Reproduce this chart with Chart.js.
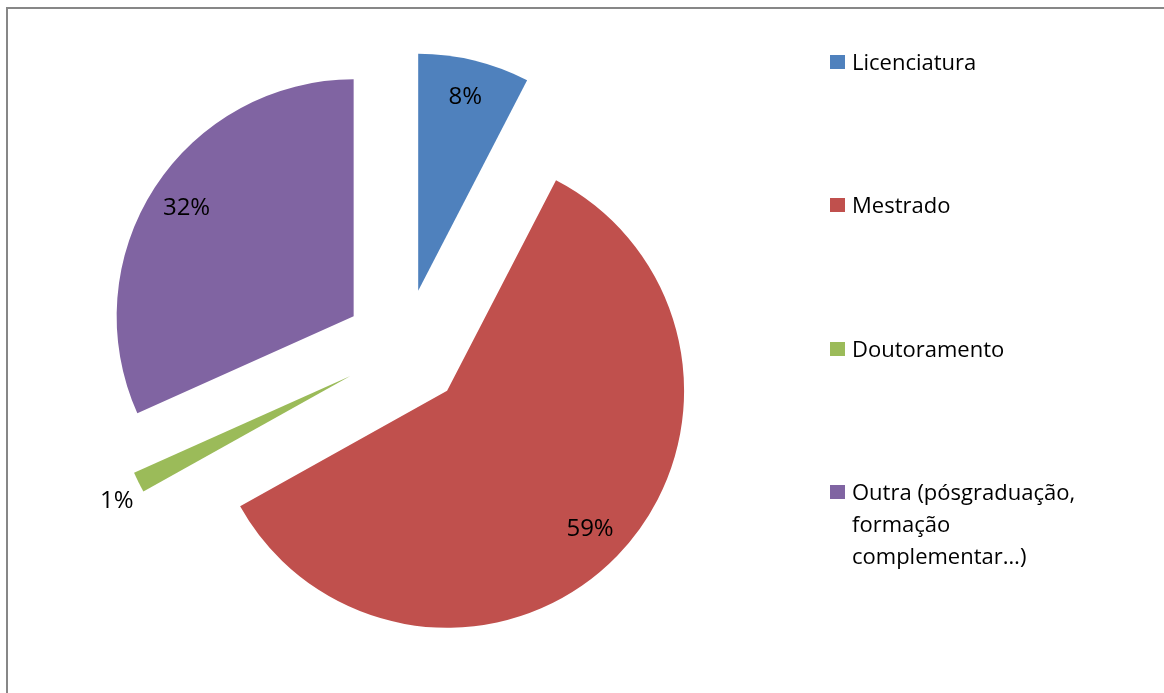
<!DOCTYPE html>
<html>
<head>
<meta charset="utf-8">
<script src="https://cdn.jsdelivr.net/npm/chart.js@4.4.0/dist/chart.umd.min.js"></script>
<style>
    body { margin: 0; background: #fff; overflow: hidden; }
    #wrap { position: relative; width: 1164px; height: 693px; }
    #frame { position: absolute; left: 6px; top: 7px; width: 1220px; height: 740px; border: 2px solid #878787; }
    #myChart { position: absolute; left: 0; top: 0; }
    .item { position: absolute; left: 830px; }
    .box { position: absolute; left: 0; top: 10px; width: 15px; height: 14px; }
    .txt { position: absolute; left: 22px; width: 245px; font: 22px/32px "Open Sans", sans-serif; color: #000; }
</style>
</head>
<body>
<div id="wrap">
    <div id="frame"></div>
    <canvas id="myChart" width="1164" height="693"></canvas>
    <div id="legend"></div>
</div>
<script>
// data
const labels = ['Licenciatura', 'Mestrado', 'Doutoramento', 'Outra (pósgraduação, formação complementar…)'];
const values = [7.6, 59.3, 1.4, 31.7];
const colors = ['#4F81BD', '#C0504D', '#9BBB59', '#8064A2'];

const EXPLODE = 60;

// draw each slice pushed out along its middle angle
const explodePlugin = {
    id: 'explode',
    beforeDatasetDraw(chart, args) {
        const ctx = chart.ctx;
        args.meta.data.forEach(arc => {
            const mid = (arc.startAngle + arc.endAngle) / 2;
            ctx.save();
            ctx.translate(Math.cos(mid) * EXPLODE, Math.sin(mid) * EXPLODE);
            arc.draw(ctx);
            ctx.restore();
        });
        return false;
    }
};

// percentage labels, small slices go outside
const percentPlugin = {
    id: 'percentLabels',
    afterDatasetsDraw(chart) {
        const ctx = chart.ctx;
        const total = values.reduce((a, b) => a + b, 0);
        ctx.save();
        ctx.font = '24px "Open Sans"';
        ctx.fillStyle = '#000';
        chart.getDatasetMeta(0).data.forEach((arc, i) => {
            const mid = (arc.startAngle + arc.endAngle) / 2;
            const cx = arc.x + Math.cos(mid) * EXPLODE;
            const cy = arc.y + Math.sin(mid) * EXPLODE;
            const text = Math.round(values[i] / total * 100) + '%';
            if (values[i] / total < 0.03) {
                const ex = cx + Math.cos(mid) * arc.outerRadius;
                const ey = cy + Math.sin(mid) * arc.outerRadius;
                ctx.textAlign = 'right';
                ctx.textBaseline = 'middle';
                ctx.fillText(text, ex - 5, ey + 19);
            } else {
                const r = arc.outerRadius * 0.84;
                ctx.textAlign = 'center';
                ctx.textBaseline = 'middle';
                ctx.fillText(text, cx + Math.cos(mid) * r, cy + Math.sin(mid) * r);
            }
        });
        ctx.restore();
    }
};

new Chart(document.getElementById('myChart'), {
    type: 'pie',
    data: {
        labels: labels,
        datasets: [{
            data: values,
            backgroundColor: colors,
            borderWidth: 0,
            radius: 237
        }]
    },
    options: {
        responsive: false,
        animation: false,
        events: [],
        layout: { padding: { left: 100, right: 456, top: 60, bottom: 55 } },
        plugins: {
            legend: { display: false },
            tooltip: { enabled: false }
        }
    },
    plugins: [explodePlugin, percentPlugin]
});

// legend on the right
const legend = document.getElementById('legend');
labels.forEach((text, i) => {
    const item = document.createElement('div');
    item.className = 'item';
    item.style.top = (45 + i * 143.3) + 'px';
    item.innerHTML = '<span class="box" style="background:' + colors[i] + '"></span><span class="txt">' + text + '</span>';
    legend.appendChild(item);
});
</script>
</body>
</html>
